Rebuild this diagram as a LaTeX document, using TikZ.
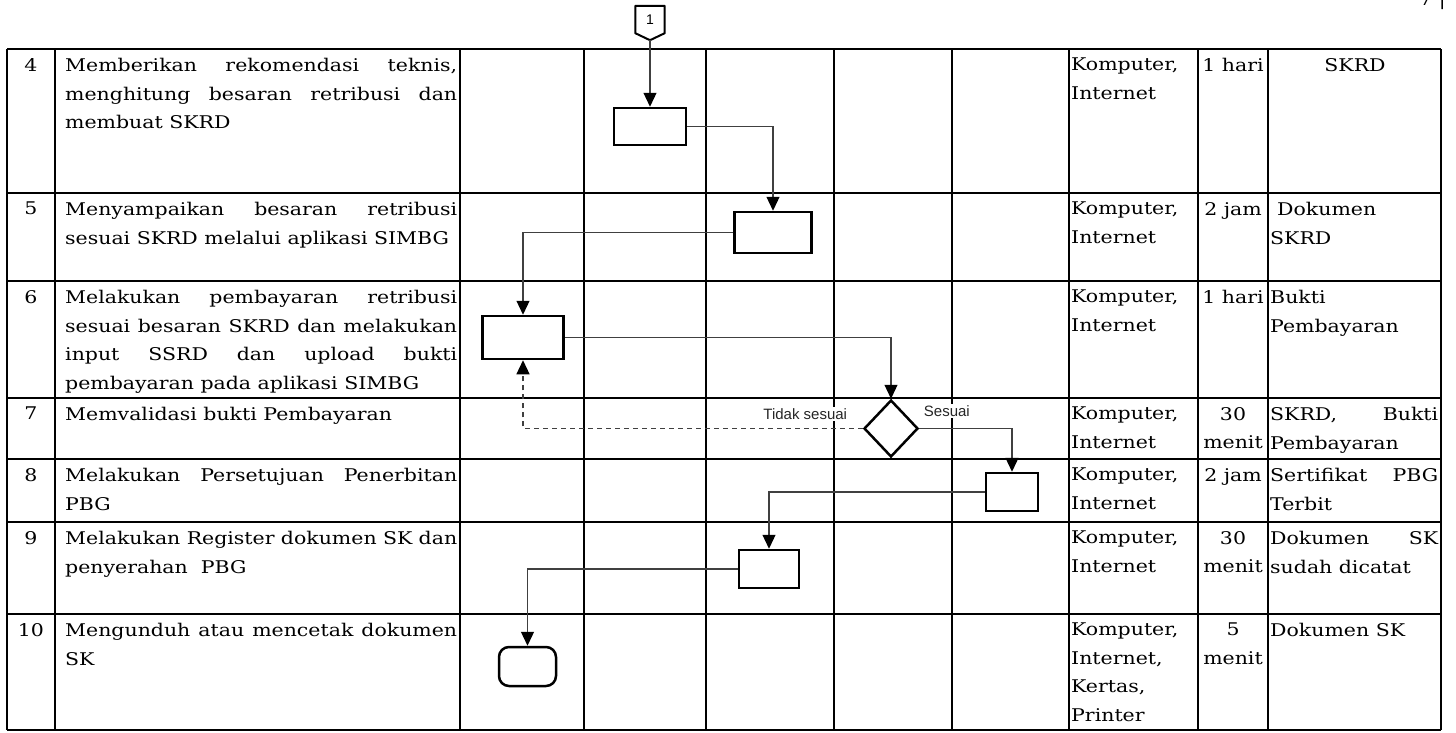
\documentclass[tikz,border=0pt]{standalone}
\usepackage{fontspec}
\setmainfont{DejaVu Serif}[FakeStretch=1.17]
\newfontfamily\labelfont{Liberation Sans}
\usetikzlibrary{arrows.meta, shapes.geometric, calc}

\newcommand{\jtask}[1]{\makebox[392pt][s]{#1}}
\newcommand{\jout}[1]{\makebox[168pt][s]{#1}}

\begin{document}
\begin{tikzpicture}[
        x=1pt, y=-1pt,
        font=\fontsize{17.5}{28.5}\selectfont,
        % Styles
        grid/.style={line width=2pt, draw=black},
        num/.style={anchor=north, inner sep=0pt},
        task/.style={anchor=north west, inner sep=0pt, align=left},
        timecell/.style={anchor=north, inner sep=0pt, align=center},
        actbox/.style={draw=black, line width=2.5pt, fill=white, inner sep=0pt},
        decision/.style={diamond, draw=black, line width=2.5pt, fill=white, inner sep=0pt, minimum width=54pt, minimum height=57pt},
        endbox/.style={actbox, rounded corners=10pt},
        flow/.style={-{Triangle[length=14pt, width=13pt, color=black]}, line width=1.2pt, draw=black!75},
        lbl/.style={inner sep=1.5pt, fill=white, font=\labelfont\fontsize{15}{17}\selectfont, text=black!85}
    ]
    \useasboundingbox (0,0) rectangle (1456,732);

    % Page number (cut at the top)
    \node[anchor=base east, inner sep=0pt] (page) at (1446,5) {7 |};

    % Table grid
    \foreach \x in {7,55,460,584,706,834,952,1069,1198,1268,1441}
        \draw[grid] (\x,49) -- (\x,730);
    \foreach \y in {49,193,281,398,459,522,614,730}
        \draw[grid] (7,\y) -- (1441,\y);

    % Row 4
    \node[num] (n4) at (31,58) {4};
    \node[task] (t4) at (65,58) {\jtask{Memberikan rekomendasi teknis,}\\\jtask{menghitung besaran retribusi dan}\\membuat SKRD};
    \node[task] (k4) at (1071,58) {Komputer,\\Internet};
    \node[timecell] (w4) at (1233,58) {1 hari};
    \node[num] (o4) at (1355,58) {SKRD};

    % Row 5
    \node[num] (n5) at (31,202) {5};
    \node[task] (t5) at (65,202) {\jtask{Menyampaikan besaran retribusi}\\sesuai SKRD melalui aplikasi SIMBG};
    \node[task] (k5) at (1071,202) {Komputer,\\Internet};
    \node[timecell] (w5) at (1233,202) {2 jam};
    \node[task] (o5) at (1270,202) {\hspace*{7pt}Dokumen\\SKRD};

    % Row 6
    \node[num] (n6) at (31,290) {6};
    \node[task] (t6) at (65,290) {\jtask{Melakukan pembayaran retribusi}\\\jtask{sesuai besaran SKRD dan melakukan}\\\jtask{input SSRD dan upload bukti}\\pembayaran pada aplikasi SIMBG};
    \node[task] (k6) at (1071,290) {Komputer,\\Internet};
    \node[timecell] (w6) at (1233,290) {1 hari};
    \node[task] (o6) at (1270,290) {Bukti\\Pembayaran};

    % Row 7
    \node[num] (n7) at (31,407) {7};
    \node[task] (t7) at (65,407) {Memvalidasi bukti Pembayaran};
    \node[task] (k7) at (1071,407) {Komputer,\\Internet};
    \node[timecell] (w7) at (1233,407) {30\\menit};
    \node[task] (o7) at (1270,407) {\jout{SKRD, Bukti}\\Pembayaran};

    % Row 8
    \node[num] (n8) at (31,468) {8};
    \node[task] (t8) at (65,468) {\jtask{Melakukan Persetujuan Penerbitan}\\PBG};
    \node[task] (k8) at (1071,468) {Komputer,\\Internet};
    \node[timecell] (w8) at (1233,468) {2 jam};
    \node[task] (o8) at (1270,468) {\jout{Sertifikat PBG}\\Terbit};

    % Row 9
    \node[num] (n9) at (31,531) {9};
    \node[task] (t9) at (65,531) {\jtask{Melakukan Register dokumen SK dan}\\penyerahan\ \ PBG};
    \node[task] (k9) at (1071,531) {Komputer,\\Internet};
    \node[timecell] (w9) at (1233,531) {30\\menit};
    \node[task] (o9) at (1270,531) {\jout{Dokumen SK}\\sudah dicatat};

    % Row 10
    \node[num] (n10) at (31,623) {10};
    \node[task] (t10) at (65,623) {\jtask{Mengunduh atau mencetak dokumen}\\SK};
    \node[task] (k10) at (1071,623) {Komputer,\\Internet,\\Kertas,\\Printer};
    \node[timecell] (w10) at (1233,623) {5\\menit};
    \node[task] (o10) at (1270,623) {Dokumen SK};

    % Off-page connector
    \node[inner sep=0pt, minimum width=29pt, minimum height=27pt, font=\labelfont\fontsize{14}{16}\selectfont] (c1) at (650,19.5) {1};
    \draw[line width=2pt, line join=round] (c1.north west) -- (c1.north east) -- (c1.south east)
        -- ($(c1.south)+(0,7)$) coordinate (c1tip) -- (c1.south west) -- cycle;

    % Flow shapes
    \node[actbox, minimum width=72pt, minimum height=37pt] (b4) at (650,126.5) {};
    \node[actbox, minimum width=77pt, minimum height=41pt] (b5) at (773,232.5) {};
    \node[actbox, minimum width=81pt, minimum height=43pt] (b6) at (523,337.5) {};
    \node[decision] (dia) at (891,428.5) {};
    \node[actbox, minimum width=52pt, minimum height=38pt] (b8) at (1012,492) {};
    \node[actbox, minimum width=60pt, minimum height=38pt] (b9) at (769,569) {};
    \node[endbox, minimum width=57pt, minimum height=39pt] (term) at (527.5,666.5) {};

    % Connectors
    \draw[flow] (c1tip) -- (b4.north);
    \draw[flow] (b4.east) -| (b5.north);
    \draw[flow] (b5.west) -| (b6.north);
    \draw[flow] (b6.east) -| (dia.north);
    \draw[flow, dash pattern=on 5pt off 4pt] (dia.west) -| (b6.south);
    \draw[flow] (dia.east) -| (b8.north);
    \draw[flow] (b8.west) -| (b9.north);
    \draw[flow] (b9.west) -| (term.north);

    % Decision labels
    \node[lbl, anchor=base east] (tidak) at ($(dia.west)+(-14,-9)$) {Tidak sesuai};
    \node[lbl, anchor=base west] (sesuai) at ($(dia.east)+(3,-12)$) {Sesuai};

\end{tikzpicture}
\end{document}
